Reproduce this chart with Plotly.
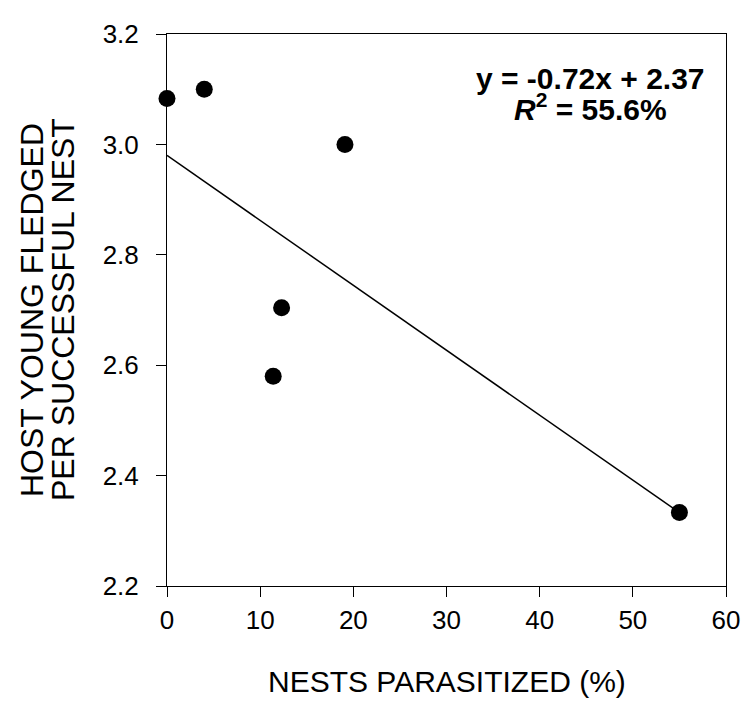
import plotly.graph_objects as go

# Data
nests_parasitized = [0, 4, 19.1, 12.3, 11.4, 55]
young_fledged = [3.083, 3.1, 3.0, 2.704, 2.58, 2.333]

fit_x = [0, 55]
fit_y = [2.98, 2.333]

x_ticks = [0, 10, 20, 30, 40, 50, 60]
y_ticks = [2.2, 2.4, 2.6, 2.8, 3.0, 3.2]

x_title = "NESTS PARASITIZED (%)"
y_title_lines = ["HOST YOUNG FLEDGED", "PER SUCCESSFUL NEST"]
eq_lines = ["<b>y = -0.72x + 2.37</b>", "<b><i>R</i><sup>2</sup> = 55.6%</b>"]

FONT = "Liberation Sans, Arial, sans-serif"

# The page body has a default 8px margin, so the figure is sized/offset to
# land the plot box at the reference's absolute pixel position without
# overflowing the window.
PAGE_OFF = 8
PLOT_LEFT, PLOT_TOP, PLOT_RIGHT, PLOT_BOTTOM = 167, 19, 734, 586
FIG_W, FIG_H = 751 - PAGE_OFF, 702 - PAGE_OFF

fig = go.Figure()
fig.add_trace(go.Scatter(x=fit_x, y=fit_y, mode="lines",
                         line=dict(color="black", width=1.5),
                         showlegend=False, hoverinfo="skip"))
fig.add_trace(go.Scatter(x=nests_parasitized, y=young_fledged, mode="markers",
                         marker=dict(color="black", size=17),
                         cliponaxis=False, showlegend=False))

axis_common = dict(showline=True, linecolor="black", linewidth=1, mirror=True,
                   ticks="outside", ticklen=10, tickwidth=1, tickcolor="black",
                   showgrid=False, zeroline=False, ticklabeloverflow="allow",
                   tickfont=dict(family=FONT, size=26, color="black"))

fig.update_xaxes(range=[0, 60], tickvals=x_ticks,
                 ticktext=[str(v) for v in x_ticks],
                 ticklabelstandoff=1,
                 **axis_common)
fig.update_yaxes(range=[2.2, 3.2], tickvals=y_ticks,
                 ticktext=[f"{v:.1f}" for v in y_ticks],
                 ticklabelstandoff=12,
                 **axis_common)

# x-axis title
fig.add_annotation(x=0.5, y=0, xref="paper", yref="paper",
                   yshift=-(681 - PLOT_BOTTOM), text=x_title, showarrow=False,
                   xanchor="center", yanchor="middle",
                   font=dict(family=FONT, size=30, color="black"))

# y-axis title (two tightly spaced rotated lines)
for line, xpix in zip(y_title_lines, [32, 63]):
    fig.add_annotation(x=0, y=0.5, xref="paper", yref="paper",
                       xshift=xpix - PLOT_LEFT, text=line, showarrow=False,
                       textangle=-90, xanchor="center", yanchor="middle",
                       font=dict(family=FONT, size=32, color="black"))

# regression equation
for line, ypix in zip(eq_lines, [63, 92]):
    fig.add_annotation(x=0, y=1, xref="paper", yref="paper",
                       yshift=-(ypix - PLOT_TOP), xshift=590 - PLOT_LEFT,
                       text=line, showarrow=False,
                       xanchor="center", yanchor="middle",
                       font=dict(family=FONT, size=30, color="black"))

fig.update_layout(width=FIG_W, height=FIG_H,
                  margin=dict(l=PLOT_LEFT - PAGE_OFF, r=751 - PLOT_RIGHT,
                              t=PLOT_TOP - PAGE_OFF, b=702 - PLOT_BOTTOM),
                  plot_bgcolor="white", paper_bgcolor="white",
                  font=dict(family=FONT, color="black"))

fig.write_html("out.html")
